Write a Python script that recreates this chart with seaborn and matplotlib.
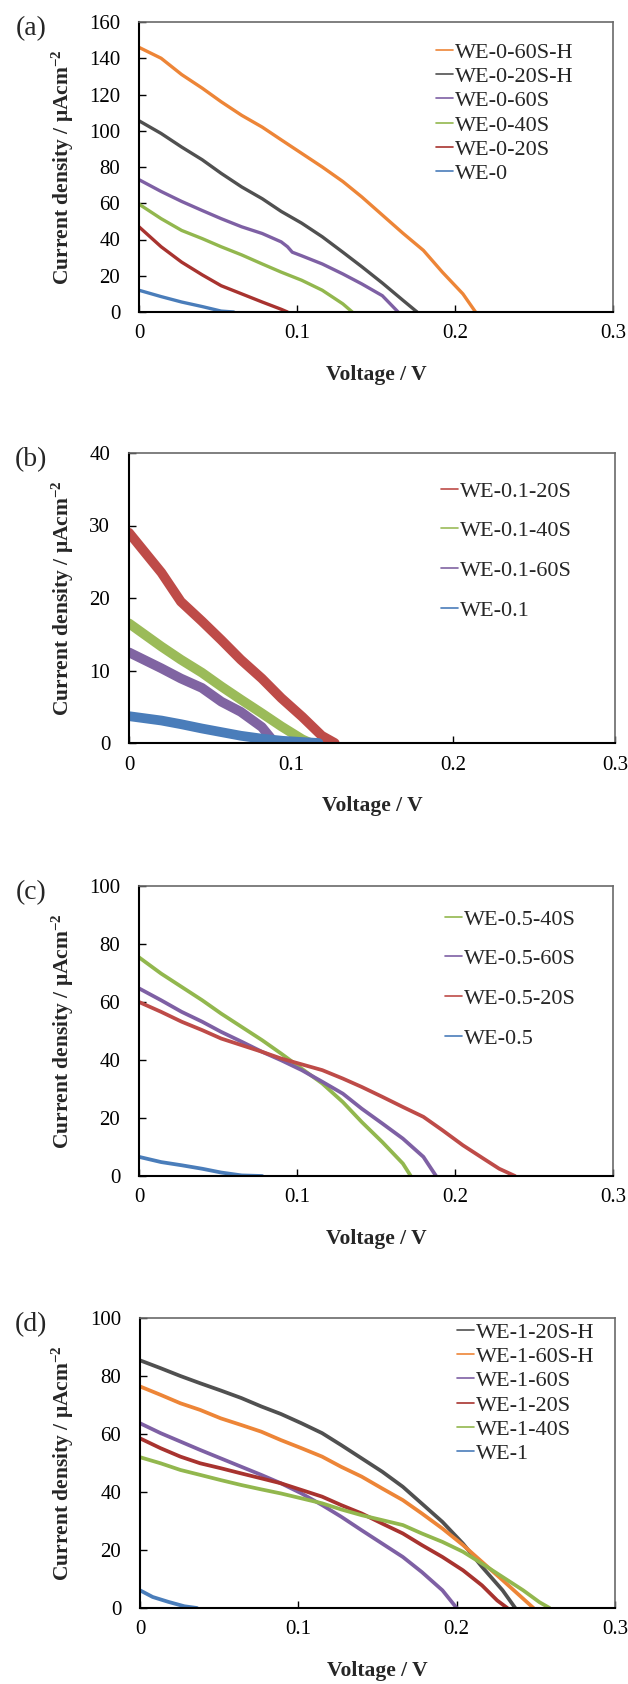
import matplotlib
matplotlib.use("Agg")
import matplotlib.pyplot as plt
import pandas as pd
import seaborn as sns

# ---------------- data ----------------
X_TICKS = [0, 0.1, 0.2, 0.3]
X_TICK_LABELS = ["0", "0.1", "0.2", "0.3"]

# panel (a)
A_LABELS = ["WE-0-60S-H", "WE-0-20S-H", "WE-0-60S", "WE-0-40S", "WE-0-20S", "WE-0"]
A_60SH_V = [0, 0.014, 0.027, 0.040, 0.052, 0.065, 0.078, 0.090, 0.103, 0.116, 0.129, 0.141, 0.154, 0.167, 0.180, 0.192, 0.205, 0.213]
A_60SH_J = [146, 140, 131, 123.5, 116, 108.5, 102, 95, 87.5, 80, 72, 63.5, 53.5, 43.5, 34, 22, 10, 0]
A_20SH_V = [0, 0.014, 0.027, 0.040, 0.052, 0.065, 0.078, 0.090, 0.103, 0.116, 0.129, 0.141, 0.154, 0.167, 0.176]
A_20SH_J = [105.5, 98.5, 91, 84, 76.5, 69, 62.5, 55.5, 49, 41.5, 33, 25, 16, 6.5, 0]
A_60S_V = [0, 0.014, 0.027, 0.040, 0.052, 0.065, 0.078, 0.090, 0.094, 0.097, 0.103, 0.116, 0.129, 0.141, 0.154, 0.164]
A_60S_J = [73, 66.5, 61, 56, 51.5, 47, 43.3, 38.7, 36, 33, 31, 26.5, 21, 15.5, 9, 0]
A_40S_V = [0, 0.014, 0.027, 0.040, 0.052, 0.065, 0.078, 0.090, 0.103, 0.116, 0.129, 0.135]
A_40S_J = [59.5, 51.5, 45, 40.5, 36, 31.5, 26.5, 22, 17.5, 12, 4.5, 0]
A_20S_V = [0, 0.014, 0.027, 0.040, 0.052, 0.065, 0.078, 0.090, 0.094]
A_20S_J = [47, 36, 27.5, 20.5, 14.5, 10, 5.5, 1.5, 0]
A_0_V = [0, 0.014, 0.027, 0.040, 0.052, 0.060]
A_0_J = [12, 8.5, 5.5, 3, 0.5, 0]

# panel (b)
B_LABELS = ["WE-0.1-20S", "WE-0.1-40S", "WE-0.1-60S", "WE-0.1"]
B_20S_V = [0, 0.020, 0.032, 0.045, 0.057, 0.069, 0.082, 0.094, 0.107, 0.119, 0.127]
B_20S_J = [29, 23.5, 19.5, 16.8, 14.2, 11.5, 8.9, 6.2, 3.6, 1.0, 0]
B_40S_V = [0, 0.020, 0.032, 0.045, 0.057, 0.069, 0.082, 0.094, 0.107, 0.112]
B_40S_J = [16.5, 13.3, 11.5, 9.7, 7.8, 6.0, 4.1, 2.3, 0.5, 0]
B_60S_V = [0, 0.020, 0.032, 0.045, 0.057, 0.069, 0.082, 0.090]
B_60S_J = [12.5, 10.3, 8.9, 7.6, 5.7, 4.3, 2.2, 0]
B_0_V = [0, 0.020, 0.032, 0.045, 0.057, 0.069, 0.082, 0.095, 0.117]
B_0_J = [3.7, 3.1, 2.6, 2.0, 1.5, 1.0, 0.6, 0.3, 0]

# panel (c)
C_LABELS = ["WE-0.5-40S", "WE-0.5-60S", "WE-0.5-20S", "WE-0.5"]
C_40S_V = [0, 0.014, 0.027, 0.040, 0.052, 0.065, 0.078, 0.090, 0.103, 0.116, 0.129, 0.141, 0.154, 0.167, 0.172]
C_40S_J = [75.4, 69.8, 65.2, 60.6, 56, 51.4, 46.8, 42.2, 37, 31.9, 25.5, 18.6, 11.7, 4.3, 0]
C_60S_V = [0, 0.014, 0.027, 0.040, 0.052, 0.065, 0.078, 0.090, 0.103, 0.116, 0.129, 0.141, 0.154, 0.167, 0.180, 0.188]
C_60S_J = [64.7, 60.6, 56.6, 53.2, 49.7, 46.3, 42.8, 39.9, 36.5, 32.5, 28.4, 23.2, 18.1, 12.9, 6.6, 0]
C_20S_V = [0, 0.014, 0.027, 0.040, 0.052, 0.065, 0.078, 0.090, 0.103, 0.116, 0.129, 0.141, 0.154, 0.167, 0.180, 0.192, 0.205, 0.218, 0.228, 0.238]
C_20S_J = [60, 56.6, 53.2, 50.3, 47.4, 45.1, 42.8, 40.5, 38.5, 36.5, 33.6, 30.7, 27.3, 23.8, 20.4, 15.8, 10.6, 6, 2.5, 0]
C_0_V = [0, 0.014, 0.027, 0.040, 0.052, 0.065, 0.078]
C_0_J = [6.6, 4.8, 3.7, 2.5, 1.2, 0.2, 0]

# panel (d)
D_LABELS = ["WE-1-20S-H", "WE-1-60S-H", "WE-1-60S", "WE-1-20S", "WE-1-40S", "WE-1"]
D_20SH_V = [0, 0.013, 0.0255, 0.038, 0.051, 0.064, 0.0766, 0.089, 0.102, 0.115, 0.127, 0.140, 0.153, 0.166, 0.178, 0.191, 0.204, 0.216, 0.229, 0.237]
D_20SH_J = [85.4, 82.7, 80, 77.5, 75, 72.4, 69.5, 66.9, 63.7, 60.3, 56.2, 51.6, 47, 41.8, 36, 29.7, 22.2, 14.2, 6.1, 0]
D_60SH_V = [0, 0.013, 0.0255, 0.038, 0.051, 0.064, 0.0766, 0.089, 0.102, 0.115, 0.127, 0.140, 0.153, 0.166, 0.178, 0.191, 0.204, 0.216, 0.229, 0.242, 0.2485]
D_60SH_J = [76.4, 73.5, 70.6, 68.3, 65.4, 63.1, 60.8, 57.9, 55.1, 52.2, 48.7, 45.3, 41.2, 37.2, 32.6, 27.4, 21.7, 15.9, 9.6, 3.2, 0]
D_60S_V = [0, 0.013, 0.0255, 0.038, 0.051, 0.064, 0.0766, 0.089, 0.102, 0.115, 0.127, 0.140, 0.153, 0.166, 0.178, 0.191, 0.200]
D_60S_J = [63.7, 60.3, 57.4, 54.5, 51.6, 48.7, 45.9, 43, 39.5, 35.5, 31.5, 26.8, 22.2, 17.6, 12.4, 6.1, 0]
D_20S_V = [0, 0.013, 0.0255, 0.038, 0.051, 0.064, 0.0766, 0.089, 0.102, 0.115, 0.127, 0.140, 0.153, 0.166, 0.178, 0.191, 0.204, 0.216, 0.2256, 0.232]
D_20S_J = [58.5, 55.1, 52.2, 49.9, 48.2, 46.4, 44.7, 43, 40.7, 38.4, 35.5, 32.6, 29.1, 25.7, 21.7, 17.6, 13, 7.8, 2.6, 0]
D_40S_V = [0, 0.013, 0.0255, 0.038, 0.051, 0.064, 0.0766, 0.089, 0.102, 0.115, 0.127, 0.140, 0.153, 0.166, 0.178, 0.191, 0.204, 0.216, 0.229, 0.242, 0.2523, 0.2587]
D_40S_J = [52, 49.9, 47.6, 45.9, 44.1, 42.4, 40.9, 39.5, 37.8, 36.1, 34, 32, 30.3, 28.6, 25.7, 22.8, 19.4, 15.3, 10.7, 6.1, 2, 0]
D_1_V = [0, 0.008, 0.018, 0.028, 0.036]
D_1_J = [6.1, 3.8, 2.1, 0.6, 0]

# colours
ORANGE = "#ED8537"
GRAY = "#505050"
PURPLE = "#7E60A4"
GREEN = "#92B74E"
RED = "#BE4B48"
DARKRED = "#A8332F"
BLUE = "#4A7DBA"

# ---------------- style ----------------
sns.set_theme(style="white")
plt.rcParams["font.family"] = ["Liberation Serif", "DejaVu Serif"]
plt.rcParams["mathtext.fontset"] = "custom"
plt.rcParams["mathtext.rm"] = "Liberation Serif"
plt.rcParams["mathtext.bf"] = "Liberation Serif:bold"
plt.rcParams["mathtext.it"] = "Liberation Serif:italic"

W, H = 628, 1684
fig = plt.figure(figsize=(W / 100, H / 100), dpi=100)

YLABEL = r"Current density / μAcm$^{\mathbf{-2}}$"


def make_df(series):
    rows = []
    for name, (v, j) in series.items():
        for a, b in zip(v, j):
            rows.append({"V": a, "J": b, "series": name})
    return pd.DataFrame(rows)


panels = [
    dict(box=(139, 613, 22, 312), ymax=160, ystep=20, letter="(a)",
         series={A_LABELS[0]: (A_60SH_V, A_60SH_J), A_LABELS[1]: (A_20SH_V, A_20SH_J),
                 A_LABELS[2]: (A_60S_V, A_60S_J), A_LABELS[3]: (A_40S_V, A_40S_J),
                 A_LABELS[4]: (A_20S_V, A_20S_J), A_LABELS[5]: (A_0_V, A_0_J)},
         order=A_LABELS, colors=[ORANGE, GRAY, PURPLE, GREEN, DARKRED, BLUE],
         leg=(436, 42), ls=0.17, lw=2.4),
    dict(box=(129, 615, 453, 743), ymax=40, ystep=10, letter="(b)",
         series={B_LABELS[0]: (B_20S_V, B_20S_J), B_LABELS[1]: (B_40S_V, B_40S_J),
                 B_LABELS[2]: (B_60S_V, B_60S_J), B_LABELS[3]: (B_0_V, B_0_J)},
         order=B_LABELS, colors=[RED, "#9BBB59", "#8064A2", BLUE],
         leg=(441, 481), ls=0.86, lw=7),
    dict(box=(139, 613, 886, 1176), ymax=100, ystep=20, letter="(c)",
         series={C_LABELS[0]: (C_40S_V, C_40S_J), C_LABELS[1]: (C_60S_V, C_60S_J),
                 C_LABELS[2]: (C_20S_V, C_20S_J), C_LABELS[3]: (C_0_V, C_0_J)},
         order=C_LABELS, colors=[GREEN, PURPLE, RED, BLUE],
         leg=(445, 909), ls=0.86, lw=2.7),
    dict(box=(140, 615, 1318, 1608), ymax=100, ystep=20, letter="(d)",
         series={D_LABELS[0]: (D_20SH_V, D_20SH_J), D_LABELS[1]: (D_60SH_V, D_60SH_J),
                 D_LABELS[2]: (D_60S_V, D_60S_J), D_LABELS[3]: (D_20S_V, D_20S_J),
                 D_LABELS[4]: (D_40S_V, D_40S_J), D_LABELS[5]: (D_1_V, D_1_J)},
         order=D_LABELS, colors=[GRAY, ORANGE, PURPLE, DARKRED, GREEN, BLUE],
         leg=(457, 1322), ls=0.17, lw=2.7),
]

for p in panels:
    l, r, t, b = p["box"]
    ax = fig.add_axes([l / W, 1 - b / H, (r - l) / W, (b - t) / H])
    df = make_df(p["series"])
    sns.lineplot(data=df, x="V", y="J", hue="series", hue_order=p["order"],
                 palette=p["colors"], sort=False, estimator=None, ax=ax,
                 linewidth=p["lw"])
    ax.set_xlim(0, 0.3)
    ax.set_ylim(0, p["ymax"])
    ax.set_xticks(X_TICKS)
    ax.set_xticklabels(X_TICK_LABELS)
    yt = list(range(0, p["ymax"] + 1, p["ystep"]))
    ax.set_yticks(yt)
    ax.set_yticklabels([str(v) for v in yt])
    ax.set_xlabel("")
    ax.set_ylabel("")
    ax.tick_params(direction="in", length=5, width=1, colors="black",
                   labelsize=15, bottom=True, left=True, top=False, right=False)
    ax.tick_params(axis="y", pad=13.5)
    ax.tick_params(axis="x", pad=9)
    for side in ["left", "bottom"]:
        ax.spines[side].set_color("black")
        ax.spines[side].set_linewidth(1.5)
    for side in ["top", "right"]:
        ax.spines[side].set_color("#6a6a6a")
        ax.spines[side].set_linewidth(1.2)

    handles, labels = ax.get_legend_handles_labels()
    lx, ly = p["leg"]
    leg = ax.legend(handles, labels, loc="upper left",
                    bbox_to_anchor=((lx - l) / (r - l), (b - ly) / (b - t)),
                    frameon=False, fontsize=16, handlelength=0.75,
                    handletextpad=0.1, labelspacing=p["ls"],
                    borderaxespad=0, borderpad=0)
    for h in leg.get_lines():
        h.set_linewidth(1.2)

    yc = (t + b) / 2
    fig.text(63 / W, 1 - yc / H, YLABEL, rotation=90, ha="center", va="center",
             fontsize=15.5, fontweight="bold")
    fig.text(((l + r) / 2) / W, 1 - (b + 63) / H, "Voltage / V", ha="center",
             va="center", fontsize=15.5, fontweight="bold")
    fig.text(31 / W, 1 - (t + 7) / H, p["letter"], ha="center", va="center",
             fontsize=20)

fig.savefig("out.png", dpi=100)
